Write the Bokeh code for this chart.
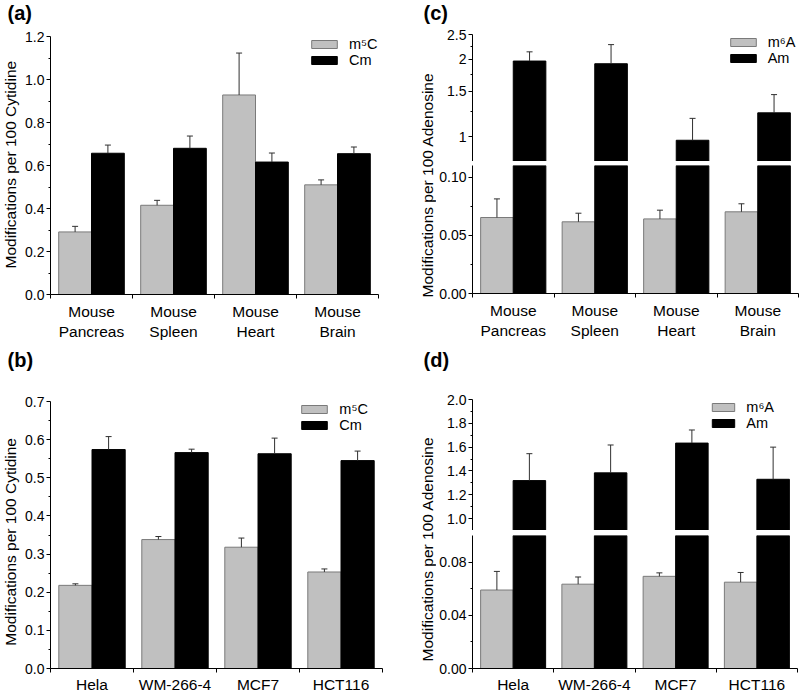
import math
from bokeh.plotting import figure
from bokeh.layouts import row, column
from bokeh.models import (Range1d, FixedTicker, PrintfTickFormatter, CustomJSTickFormatter,
                          Label, Legend, LegendItem, Whisker, TeeHead, ColumnDataSource)
from bokeh.embed import file_html
from bokeh.resources import INLINE
from bokeh.core.validation import silence
from bokeh.core.validation.warnings import MISSING_RENDERERS

silence(MISSING_RENDERERS, True)

# ---------------- data ----------------
tissues = ["Mouse\nPancreas", "Mouse\nSpleen", "Mouse\nHeart", "Mouse\nBrain"]
cells = ["Hela", "WM-266-4", "MCF7", "HCT116"]

tissue_m5C = [0.291, 0.415, 0.928, 0.510]
tissue_m5C_sd = [0.026, 0.023, 0.195, 0.023]
tissue_Cm = [0.657, 0.680, 0.616, 0.655]
tissue_Cm_sd = [0.038, 0.057, 0.042, 0.031]

tissue_m6A = [0.0653, 0.0616, 0.0641, 0.0702]
tissue_m6A_sd = [0.0160, 0.0074, 0.0075, 0.0069]
tissue_Am = [1.970, 1.923, 0.968, 1.238]
tissue_Am_sd = [0.170, 0.360, 0.210, 0.220]

cell_m5C = [0.218, 0.338, 0.318, 0.253]
cell_m5C_sd = [0.004, 0.008, 0.024, 0.008]
cell_Cm = [0.574, 0.566, 0.563, 0.545]
cell_Cm_sd = [0.034, 0.009, 0.041, 0.025]

cell_m6A = [0.0590, 0.0634, 0.0693, 0.0649]
cell_m6A_sd = [0.0140, 0.0054, 0.0026, 0.0073]
cell_Am = [1.319, 1.384, 1.634, 1.330]
cell_Am_sd = [0.226, 0.234, 0.110, 0.270]

# axis ranges / ticks
a_ticks = [0.0, 0.2, 0.4, 0.6, 0.8, 1.0, 1.2]
a_minor = [0.1, 0.3, 0.5, 0.7, 0.9, 1.1]
b_ticks = [0.0, 0.1, 0.2, 0.3, 0.4, 0.5, 0.6, 0.7]
b_minor = [0.05, 0.15, 0.25, 0.35, 0.45, 0.55, 0.65]
c_low_ticks = [0.0, 0.05, 0.10]
c_low_minor = [0.025, 0.075]
c_up_ticks = [1.0, 1.5, 2.0, 2.5]
c_up_minor = [1.25, 1.75, 2.25]
d_low_ticks = [0.0, 0.04, 0.08]
d_low_minor = [0.02, 0.06]
d_up_ticks = [1.0, 1.2, 1.4, 1.6, 1.8, 2.0]
d_up_minor = [0.9, 1.1, 1.3, 1.5, 1.7, 1.9]

a_range = (0.0, 1.2)
b_range = (0.0, 0.7)
c_low_range = (0.0, 0.11)   # lower segment of the broken axis
c_up_range = (0.8, 2.5)     # upper (log) segment
d_low_range = (0.0, 0.10)
d_up_range = (0.9, 2.0)

FONT = "Liberation Sans"
GRAY = "#c0c0c0"
GRAY_LINE = "#7a7a7a"
BLACK = "#000000"
ERR = "#303030"
X_RANGE = (-0.5, 3.5)


def make_plot(fw, fh, bl, br, bt, bb, y_range, y_type="linear", show_x=True):
    p = figure(frame_width=fw, frame_height=fh, x_range=Range1d(*X_RANGE),
               y_range=Range1d(*y_range), y_axis_type=y_type,
               x_axis_location="below" if show_x else None,
               toolbar_location=None, output_backend="svg",
               min_border_left=bl, min_border_right=br,
               min_border_top=bt, min_border_bottom=bb)
    p.outline_line_color = None
    p.xgrid.visible = False
    p.ygrid.visible = False
    p.background_fill_color = "white"
    p.border_fill_color = "white"
    return p


def text_fig(w, h):
    p = figure(width=w, height=h, x_range=Range1d(0, w), y_range=Range1d(0, h),
               x_axis_location=None, y_axis_location=None, toolbar_location=None,
               output_backend="svg", min_border=0)
    p.outline_line_color = None
    p.xgrid.visible = False
    p.ygrid.visible = False
    return p


def style_y(ax, ticks, minor, formatter):
    ax.ticker = FixedTicker(ticks=ticks, minor_ticks=minor)
    ax.formatter = formatter
    ax.axis_line_color = "black"
    ax.major_tick_line_color = "black"
    ax.minor_tick_line_color = "black"
    ax.major_tick_out = 4
    ax.major_tick_in = 0
    ax.minor_tick_out = 2
    ax.minor_tick_in = 0
    ax.major_label_standoff = 2
    ax.major_label_text_font = FONT
    ax.major_label_text_font_size = "14px"
    ax.major_label_text_color = "black"


def style_x(ax, labels, standoff):
    n = len(labels)
    ax.ticker = FixedTicker(ticks=list(range(n)), minor_ticks=[i - 0.5 for i in range(n + 1)])
    ax.major_label_overrides = {i: lab for i, lab in enumerate(labels)}
    ax.axis_line_color = "black"
    ax.minor_tick_line_color = "black"
    ax.major_tick_out = 0
    ax.major_tick_in = 0
    ax.minor_tick_out = 4
    ax.minor_tick_in = 0
    ax.major_label_standoff = standoff
    ax.major_label_text_font = FONT
    ax.major_label_text_font_size = "15.5px"
    ax.major_label_text_color = "black"


def bars(p, offset, vals, sds, fill, line, bottom=0.0, err=True):
    x = [i + offset for i in range(len(vals))]
    src = ColumnDataSource(dict(x=x, top=vals, hi=[v + s for v, s in zip(vals, sds)]))
    r = p.vbar(x="x", top="top", bottom=bottom, width=0.4, source=src,
               fill_color=fill, line_color=line, line_width=1)
    if err:
        w = Whisker(source=src, base="x", lower="top", upper="hi", dimension="height",
                    line_color=ERR, line_width=1,
                    upper_head=TeeHead(size=6, line_color=ERR, line_width=1),
                    lower_head=None, level="annotation")
        p.add_layout(w)
    return r


def legend(p, r1, l1, r2, l2, loc, gw=32):
    lg = Legend(items=[LegendItem(label=l1, renderers=[r1]), LegendItem(label=l2, renderers=[r2])],
                location=loc, margin=0, padding=0, spacing=0,
                glyph_width=gw, glyph_height=10, label_height=16, label_standoff=9,
                label_text_font=FONT, label_text_font_size="14.5px", label_text_color="black",
                background_fill_alpha=0, border_line_color=None)
    p.add_layout(lg)


def panel_letter(p, txt, x, y):
    p.add_layout(Label(x=x, y=y, text=txt, text_font=FONT, text_font_size="20px",
                       text_font_style="bold", text_align="left", text_baseline="middle",
                       text_color="black"))


def ylabel(p, txt, x, y):
    p.add_layout(Label(x=x, y=y, text=txt, angle=math.pi / 2, text_font=FONT,
                       text_font_size="15.5px", text_align="center", text_baseline="middle",
                       text_color="black"))


# ---------------- panel (a) ----------------
strip_a = text_fig(392, 24)
panel_letter(strip_a, "(a)", 7, 12)
lab_a = text_fig(22, 322)
ylabel(lab_a, "Modifications per 100 Cytidine", 9.5, 162)
pa = make_plot(328, 258, 28, 14, 12, 52, a_range)
style_y(pa.yaxis[0], a_ticks, a_minor, PrintfTickFormatter(format="%.1f"))
style_x(pa.xaxis[0], tissues, 4)
ra1 = bars(pa, -0.2, tissue_m5C, tissue_m5C_sd, GRAY, GRAY_LINE)
ra2 = bars(pa, 0.2, tissue_Cm, tissue_Cm_sd, BLACK, BLACK)
legend(pa, ra1, "m\u2075C", ra2, "Cm", (258, 226))
panel_a = column(strip_a, row(lab_a, pa, spacing=0), spacing=0)

# ---------------- panel (c) ----------------
strip_c = text_fig(407, 24)
panel_letter(strip_c, "(c)", 31, 12)
lab_c = text_fig(44, 322)
ylabel(lab_c, "Modifications per 100 Adenosine", 34.5, 161.5)
pcu = make_plot(326, 127, 36, 1, 10, 0, c_up_range, y_type="log", show_x=False)
style_y(pcu.yaxis[0], c_up_ticks, c_up_minor, CustomJSTickFormatter(code="return tick.toString()"))
rcu1 = bars(pcu, -0.2, tissue_m6A, tissue_m6A_sd, GRAY, GRAY_LINE, bottom=c_low_range[1], err=False)
rcu2 = bars(pcu, 0.2, tissue_Am, tissue_Am_sd, BLACK, BLACK, bottom=c_low_range[1])
legend(pcu, rcu1, "m\u2076A", rcu2, "Am", (254.7, 95))
pcl = make_plot(326, 128, 36, 1, 4, 53, c_low_range)
style_y(pcl.yaxis[0], c_low_ticks, c_low_minor, PrintfTickFormatter(format="%.2f"))
style_x(pcl.xaxis[0], tissues, 4)
bars(pcl, -0.2, tissue_m6A, tissue_m6A_sd, GRAY, GRAY_LINE)
bars(pcl, 0.2, tissue_Am, tissue_Am_sd, BLACK, BLACK, err=False)
panel_c = column(strip_c, row(lab_c, column(pcu, pcl, spacing=0), spacing=0), spacing=0)

# ---------------- panel (b) ----------------
strip_b = text_fig(392, 40)
panel_letter(strip_b, "(b)", 7, 27)
lab_b = text_fig(22, 308)
ylabel(lab_b, "Modifications per 100 Cytidine", 9.5, 145.5)
pb = make_plot(332, 267, 28, 10, 15, 26, b_range)
style_y(pb.yaxis[0], b_ticks, b_minor, PrintfTickFormatter(format="%.1f"))
style_x(pb.xaxis[0], cells, 3)
rb1 = bars(pb, -0.2, cell_m5C, cell_m5C_sd, GRAY, GRAY_LINE)
rb2 = bars(pb, 0.2, cell_Cm, cell_Cm_sd, BLACK, BLACK)
legend(pb, rb1, "m\u2075C", rb2, "Cm", (248.3, 235))
panel_b = column(strip_b, row(lab_b, pb, spacing=0), spacing=0)

# ---------------- panel (d) ----------------
strip_d = text_fig(407, 40)
panel_letter(strip_d, "(d)", 31, 27)
lab_d = text_fig(44, 308)
ylabel(lab_d, "Modifications per 100 Adenosine", 34.5, 145.5)
pdu = make_plot(325, 131, 36, 2, 13, 0, d_up_range, show_x=False)
style_y(pdu.yaxis[0], d_up_ticks, d_up_minor, PrintfTickFormatter(format="%.1f"))
rdu1 = bars(pdu, -0.2, cell_m6A, cell_m6A_sd, GRAY, GRAY_LINE, bottom=d_low_range[1], err=False)
rdu2 = bars(pdu, 0.2, cell_Am, cell_Am_sd, BLACK, BLACK, bottom=d_low_range[1])
legend(pdu, rdu1, "m\u2076A", rdu2, "Am", (237.3, 99), gw=28)
pdl = make_plot(325, 133, 36, 2, 5, 26, d_low_range)
style_y(pdl.yaxis[0], d_low_ticks, d_low_minor, PrintfTickFormatter(format="%.2f"))
style_x(pdl.xaxis[0], cells, 3)
bars(pdl, -0.2, cell_m6A, cell_m6A_sd, GRAY, GRAY_LINE)
bars(pdl, 0.2, cell_Am, cell_Am_sd, BLACK, BLACK, err=False)
panel_d = column(strip_d, row(lab_d, column(pdu, pdl, spacing=0), spacing=0), spacing=0)

layout = column(row(panel_a, panel_c, spacing=0), row(panel_b, panel_d, spacing=0), spacing=0)

open("out.html", "w").write(file_html(layout, INLINE, title="RNA modifications"))
